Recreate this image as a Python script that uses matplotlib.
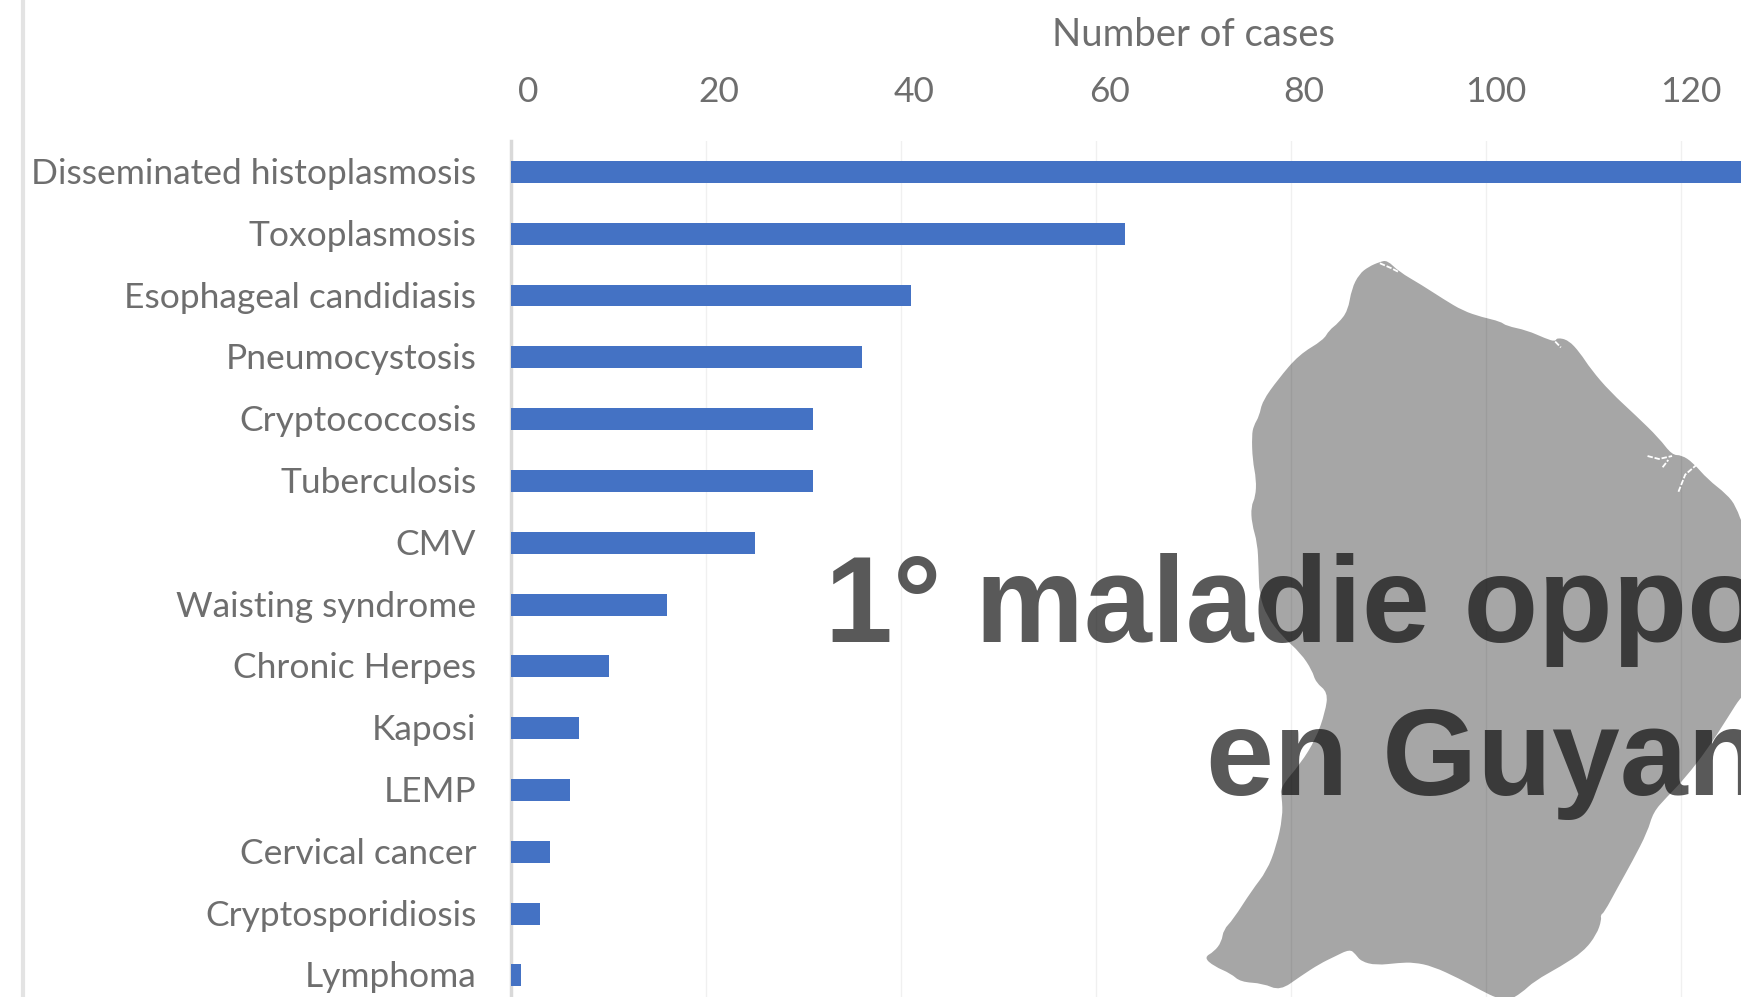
import matplotlib
matplotlib.use("Agg")
import matplotlib.pyplot as plt
from matplotlib.patches import PathPatch
from matplotlib.path import Path
from matplotlib.transforms import ScaledTranslation

categories = ["Disseminated histoplasmosis", "Toxoplasmosis", "Esophageal candidiasis",
              "Pneumocystosis", "Cryptococcosis", "Tuberculosis", "CMV", "Waisting syndrome",
              "Chronic Herpes", "Kaposi", "LEMP", "Cervical cancer", "Cryptosporidiosis", "Lymphoma"]
cases = [135, 63, 41, 36, 31, 31, 25, 16, 10, 7, 6, 4, 3, 1]
x_ticks = [0, 20, 40, 60, 80, 100, 120]
x_label_shift = [17, 13, 13, 13, 13, 10, 10]  # the labels sit right of their gridlines

map_outline = [(610, 65), (630, 62), (660, 85), (720, 112), (780, 142), (830, 165), (880, 178), (930, 187),
               (945, 196), (1000, 205), (1050, 222), (1075, 228), (1080, 220), (1110, 225), (1140, 250),
               (1170, 285), (1220, 330), (1290, 380), (1350, 425), (1385, 460), (1410, 460), (1440, 475),
               (1480, 510), (1530, 540), (1555, 565), (1575, 610), (1700, 700), (1700, 850), (1575, 945),
               (1530, 1000), (1480, 1060), (1420, 1120), (1370, 1160), (1335, 1190), (1320, 1230),
               (1280, 1290), (1240, 1345), (1205, 1395), (1195, 1400), (1198, 1410), (1185, 1440),
               (1150, 1475), (1090, 1505), (1020, 1535), (985, 1560), (950, 1575), (920, 1570), (880, 1555),
               (820, 1530), (750, 1505), (700, 1497), (660, 1498), (600, 1503), (560, 1495), (545, 1480),
               (530, 1470), (490, 1485), (450, 1500), (400, 1525), (345, 1555), (300, 1540), (240, 1537),
               (215, 1520), (170, 1505), (143, 1487), (170, 1475), (190, 1455), (195, 1430), (220, 1410),
               (270, 1350), (310, 1310), (335, 1260), (352, 1200), (350, 1160), (345, 1140), (400, 1090),
               (440, 1040), (465, 985), (472, 945), (440, 925), (430, 900), (400, 865), (350, 830), (310, 790),
               (290, 745), (288, 690), (285, 640), (270, 600), (268, 565), (280, 545), (282, 510), (272, 470),
               (270, 420), (275, 400), (290, 380), (298, 350), (340, 305), (395, 255), (460, 225), (475, 205),
               (500, 190), (525, 165), (535, 120), (555, 90), (580, 75)]
map_rivers = [[(1320, 462), (1350, 468), (1385, 462)], [(1360, 485), (1375, 470)],
              [(1402, 535), (1420, 500), (1450, 480)], [(610, 68), (640, 78), (660, 86)],
              [(1075, 228), (1090, 240)]]


def crop_to_px(points):
    # crop is 591x767 px starting at (1150, 230), shown at 1568x1568
    return [(1150 + x / 2.653, 230 + y / 2.044) for x, y in points]


def smooth_path(points):
    # quadratic curves through the midpoints, rounds off the corners of the outline
    n = len(points)
    mids = [((points[i][0] + points[(i + 1) % n][0]) / 2, (points[i][1] + points[(i + 1) % n][1]) / 2)
            for i in range(n)]
    verts = [mids[-1]]
    codes = [Path.MOVETO]
    for i in range(n):
        verts += [points[i], mids[i]]
        codes += [Path.CURVE3, Path.CURVE3]
    return Path(verts, codes)


plt.rcParams["font.family"] = ["Lato", "DejaVu Sans"]
W, H = 1741, 997
grey = "#6e6e6e"

fig = plt.figure(figsize=(W / 100, H / 100), dpi=100)
ax = fig.add_axes([511 / W, 0, 1 - 511 / W, 1 - 141 / H])

ax.barh(range(len(cases)), cases, height=0.355, color="#4472c4", zorder=3)
ax.set_xlim(0, 126.15)
ax.set_ylim(13.35, -0.5)

ax.xaxis.tick_top()
ax.set_xticks(x_ticks)
ax.set_xticklabels([str(v) for v in x_ticks], fontsize=25.5, color=grey)
ax.set_yticks(range(len(categories)))
ax.set_yticklabels(categories, fontsize=25.5, color=grey)
ax.tick_params(axis="both", length=0)
ax.tick_params(axis="x", pad=24)
ax.tick_params(axis="y", pad=25)
for label, dx in zip(ax.get_xticklabels(), x_label_shift):
    label.set_transform(label.get_transform() + ScaledTranslation(dx / 100, 0, fig.dpi_scale_trans))
for label in ax.get_yticklabels():
    label.set_transform(label.get_transform() + ScaledTranslation(0, 1 / 100, fig.dpi_scale_trans))

ax.grid(axis="x", color="#f0f0f0", linewidth=1, zorder=0)
for side in ["top", "right", "bottom"]:
    ax.spines[side].set_visible(False)
ax.spines["left"].set_color("#d9d9d9")
ax.spines["left"].set_linewidth(2.5)

# overlay in picture pixels: slide edge, map and the big title
over = fig.add_axes([0, 0, 1, 1])
over.set_xlim(0, W)
over.set_ylim(H, 0)
over.axis("off")
over.plot([23, 23], [0, H], color="#e3e3e3", linewidth=3)
over.add_patch(PathPatch(smooth_path(crop_to_px(map_outline)), facecolor="black", edgecolor="none", alpha=0.35))
for river in map_rivers:
    xs, ys = zip(*crop_to_px(river))
    over.plot(xs, ys, color="white", linewidth=1.3, linestyle=(0, (3, 1)))

over.text(1193, 35, "Number of cases", fontsize=27.5, color=grey, ha="center", va="center")
over.text(825, 642, "1° maladie opportuniste", family="Liberation Sans", fontweight="bold", fontsize=87.8,
          color="black", alpha=0.65, ha="left", va="baseline")
over.text(1206, 795, "en Guyane", family="Liberation Sans", fontweight="bold", fontsize=87.8,
          color="black", alpha=0.65, ha="left", va="baseline")

fig.savefig("out.png", dpi=100)
